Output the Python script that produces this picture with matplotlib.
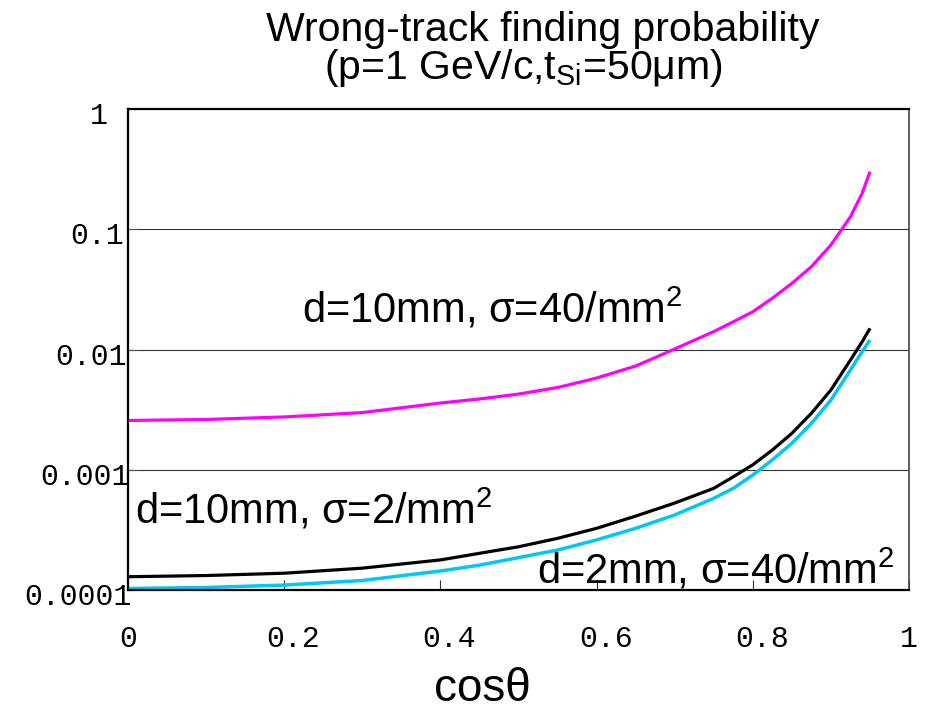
import matplotlib
matplotlib.use("Agg")
import matplotlib.pyplot as plt
import matplotlib.transforms as mtransforms

plt.rcParams['font.family'] = ['Liberation Sans', 'DejaVu Sans']
plt.rcParams['mathtext.fontset'] = 'custom'
plt.rcParams['mathtext.rm'] = 'Liberation Sans'
plt.rcParams['mathtext.it'] = 'Liberation Sans:italic'
plt.rcParams['mathtext.bf'] = 'Liberation Sans:bold'

# cos(theta) sample points
cos_theta = [0.0, 0.1, 0.2, 0.3, 0.4, 0.45, 0.5, 0.55, 0.6, 0.65, 0.7, 0.75, 0.775,
             0.8, 0.825, 0.85, 0.875, 0.9, 0.925, 0.94, 0.95]

# d=10mm, sigma=40/mm2 (magenta)
p_d10_s40 = [2.57e-3, 2.62e-3, 2.75e-3, 2.99e-3, 3.59e-3, 3.88e-3, 4.26e-3, 4.83e-3, 5.79e-3,
             7.29e-3, 1.01e-2, 1.41e-2, 1.70e-2, 2.06e-2, 2.67e-2, 3.55e-2, 4.88e-2,
             7.4e-2, 0.127, 0.199, 0.301]
# d=10mm, sigma=2/mm2 (black)
p_d10_s2 = [1.29e-4, 1.32e-4, 1.38e-4, 1.52e-4, 1.78e-4, 2.02e-4, 2.29e-4, 2.69e-4, 3.26e-4,
            4.12e-4, 5.29e-4, 7.01e-4, 8.75e-4, 1.10e-3, 1.46e-3, 2.01e-3, 2.95e-3,
            4.61e-3, 8.18e-3, 1.16e-2, 1.50e-2]
# d=2mm, sigma=40/mm2 (cyan)
p_d2_s40 = [1.03e-4, 1.05e-4, 1.10e-4, 1.20e-4, 1.44e-4, 1.61e-4, 1.86e-4, 2.15e-4, 2.61e-4,
            3.26e-4, 4.21e-4, 5.79e-4, 7.01e-4, 9.04e-4, 1.21e-3, 1.66e-3, 2.43e-3,
            3.80e-3, 6.76e-3, 9.59e-3, 1.20e-2]

x_ticks = [0, 0.2, 0.4, 0.6, 0.8, 1]
x_tick_labels = ["0", "0.2", "0.4", "0.6", "0.8", "1"]
y_ticks = [1e-4, 1e-3, 1e-2, 1e-1, 1]
y_tick_labels = ["0.0001", "0.001", "0.01", "0.1", "1"]

fig = plt.figure(figsize=(9.29, 7.12), dpi=100)
ax = fig.add_axes([0.1378, 0.1713, 0.9785 - 0.1378, 0.8469 - 0.1713])

ax.plot(cos_theta, p_d10_s40, color='#ff00ff', lw=2.3, solid_capstyle='butt')
ax.plot(cos_theta, p_d10_s2, color='black', lw=2.3, solid_capstyle='butt')
ax.plot(cos_theta, p_d2_s40, color='#00c8f2', lw=2.5, solid_capstyle='butt')

ax.set_yscale('log')
ax.set_xlim(0, 1)
ax.set_ylim(1e-4, 1)

# horizontal grid lines at the inner decades
for v in y_ticks[1:-1]:
    ax.axhline(v, color='#333333', lw=0.8, zorder=0)

ax.minorticks_off()
ax.set_xticks(x_ticks)
ax.set_xticklabels(x_tick_labels, family='Liberation Mono', fontsize=21.5)
ax.set_yticks(y_ticks)
ax.set_yticklabels(y_tick_labels, family='Liberation Mono', fontsize=21.5)
ax.tick_params(axis='x', direction='in', length=7, width=0.8, color='#333333', pad=25)
ax.tick_params(axis='y', direction='in', length=6.5, width=0.8, color='#555555', pad=1)

# nudge labels like the original layout
for lab in ax.get_xticklabels():
    if '.' in lab.get_text():
        lab.set_transform(lab.get_transform() + mtransforms.ScaledTranslation(9 / 100, 0, fig.dpi_scale_trans))
y_shift = [5, 3, 0, -3, -19]
for lab, dx in zip(ax.get_yticklabels(), y_shift):
    lab.set_transform(lab.get_transform() + mtransforms.ScaledTranslation(dx / 100, -4 / 100, fig.dpi_scale_trans))

for s in ['left', 'bottom', 'top']:
    ax.spines[s].set_linewidth(1.6)
    ax.spines[s].set_color('black')
ax.spines['right'].set_linewidth(1.2)
ax.spines['right'].set_color('#444444')

# curve labels
ax.text(0.223, 0.0169, "d=10mm, σ=40/mm$^2$", fontsize=30, va='baseline', ha='left')
ax.text(0.009, 3.59e-4, "d=10mm, σ=2/mm$^2$", fontsize=30, va='baseline', ha='left')
ax.text(0.524, 1.14e-4, "d=2mm, σ=40/mm$^2$", fontsize=30, va='baseline', ha='left')

# title
fig.text(542.5 / 929, 1 - 41 / 712, "Wrong-track finding probability", fontsize=29.5,
         ha='center', va='baseline')
fig.text(523.5 / 929, 1 - 79 / 712, r"(p=1 GeV/c,t$_{\mathrm{Si}}$=50μm)", fontsize=29.5,
         ha='center', va='baseline')

# x label
fig.text(482.5 / 929, 1 - 701 / 712, "cosθ", fontsize=33, ha='center', va='baseline')

fig.savefig("out.png", dpi=100)
